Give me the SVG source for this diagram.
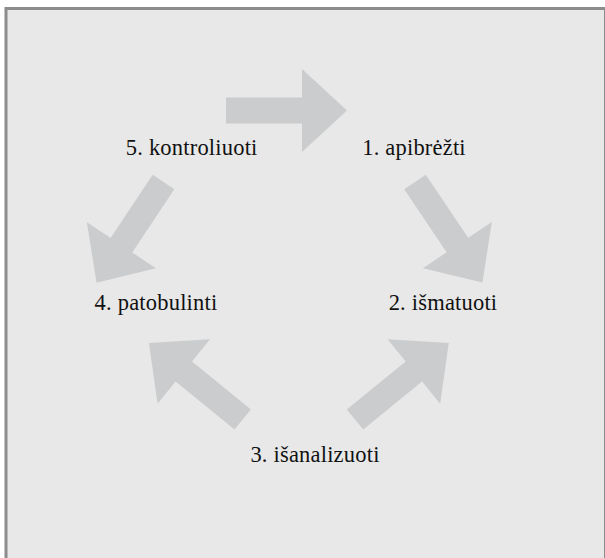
<svg xmlns="http://www.w3.org/2000/svg" xmlns:xlink="http://www.w3.org/1999/xlink" width="605" height="558" viewBox="0 0 605 558">
<style>
.bg{fill:#e8e8e8;stroke:#8c8c8c;stroke-width:3}
.lbl{font-family:"Liberation Serif","Times New Roman",serif;font-size:22.5px;letter-spacing:0.2px;fill:#111;text-anchor:middle}
.arr{fill:#cbcccd}
</style>
<defs>
<path id="arrow" d="M0,-13 L76,-13 L76,-41.5 L121,0 L76,41.5 L76,13 L0,13 Z"/>
</defs>
<rect x="0" y="0" width="605" height="558" fill="#ffffff"/>
<rect class="bg" x="6" y="8.5" width="599.5" height="600"/>
<g id="connectors" class="arr">
<use xlink:href="#arrow" href="#arrow" transform="translate(226,110.5)"/>
<use xlink:href="#arrow" href="#arrow" transform="translate(415,182) rotate(56.1)"/>
<use xlink:href="#arrow" href="#arrow" transform="translate(163.5,182) rotate(123.6)"/>
<use xlink:href="#arrow" href="#arrow" transform="translate(242.7,419.5) rotate(219.2)"/>
<use xlink:href="#arrow" href="#arrow" transform="translate(355,419.5) rotate(-39.2)"/>
</g>
<g id="node1"><text class="lbl" x="414" y="155">1. apibrėžti</text></g>
<g id="node2"><text class="lbl" x="443" y="310">2. išmatuoti</text></g>
<g id="node3"><text class="lbl" x="315" y="462">3. išanalizuoti</text></g>
<g id="node4"><text class="lbl" x="156" y="310">4. patobulinti</text></g>
<g id="node5"><text class="lbl" x="191.7" y="155">5. kontroliuoti</text></g>
</svg>
